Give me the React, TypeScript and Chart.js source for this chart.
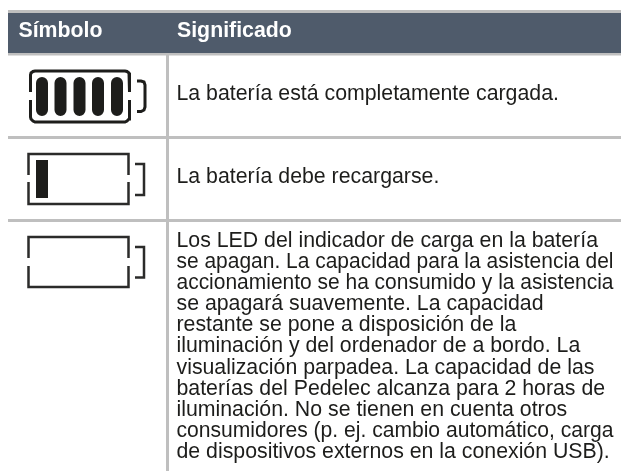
import React, { useEffect, useRef } from "react";
import { Chart, registerables } from "chart.js";

Chart.register(...registerables);

const headers = ["Símbolo", "Significado"];
const rowOneText = ["La batería está completamente cargada."];
const rowTwoText = ["La batería debe recargarse."];
const rowThreeText = [
  "Los LED del indicador de carga en la batería",
  "se apagan. La capacidad para la asistencia del",
  "accionamiento se ha consumido y la asistencia",
  "se apagará suavemente. La capacidad",
  "restante se pone a disposición de la",
  "iluminación y del ordenador de a bordo. La",
  "visualización parpadea. La capacidad de las",
  "baterías del Pedelec alcanza para 2 horas de",
  "iluminación. No se tienen en cuenta otros",
  "consumidores (p. ej. cambio automático, carga",
  "de dispositivos externos en la conexión USB).",
];
const rowThreeMaxWidth = [422, 437, 437, 368, 341, 405, 418, 430, 392, 437, 434];

type P = { x: number; y: number };
const pts = (a: number[][]): P[] => a.map(([x, y]) => ({ x, y }));

const headerBand = [[8, 33], [621, 33]];
const ruleTop = [[8, 11.5], [621, 11.5]];
const ruleHeader = [[8, 54], [621, 54]];
const ruleRowOne = [[8, 137.5], [621, 137.5]];
const ruleRowTwo = [[8, 220.5], [621, 220.5]];
const ruleColumn = [[167.5, 13], [167.5, 471]];

const fullUpper = [[30.5, 92], [30.5, 75], [31, 73], [33, 71.5], [35, 71], [125, 71], [127, 71.5], [129, 73], [129.5, 75], [129.5, 92]];
const fullLower = [[30.5, 100], [30.5, 117], [31, 119], [33, 121], [35, 122], [125, 122], [127, 121], [129, 119], [129.5, 117], [129.5, 100]];
const fullNub = [[137, 81], [141, 81], [144, 82], [145, 85], [145, 107], [144, 110], [141, 111.5], [137, 111.5]];
const fullCells = [42, 60.5, 79.5, 98, 117];
const fullCellTop = 83;
const fullCellBottom = 110;

const lowUpper = [[28.5, 175], [28.5, 154], [128.5, 154], [128.5, 175]];
const lowLower = [[28.5, 182], [28.5, 204], [128.5, 204], [128.5, 182]];
const lowNub = [[135, 164], [144, 164], [144, 195], [135, 195]];
const lowCell = [[42, 160], [42, 198]];

const emptyUpper = [[28.5, 258], [28.5, 237], [128.5, 237], [128.5, 258]];
const emptyLower = [[28.5, 266], [28.5, 287], [128.5, 287], [128.5, 266]];
const emptyNub = [[135, 247], [144, 247], [144, 277.5], [135, 277.5]];

const FONT = "'Liberation Sans', Arial, sans-serif";
const INK = "#1d1d1b";
const RULE = "#bfbfbf";
const HEAD = "#4f5b6b";

const line = (a: number[][], color: string, width: number, cap: CanvasLineCap = "butt") => ({
  type: "line" as const,
  data: pts(a),
  borderColor: color,
  borderWidth: width,
  borderCapStyle: cap,
  borderJoinStyle: "miter" as CanvasLineJoin,
  pointRadius: 0,
  tension: 0,
  fill: false,
});

const tableText = {
  id: "tableText",
  afterDatasetsDraw(chart: Chart) {
    const { ctx, scales } = chart;
    const X = scales.x;
    const Y = scales.y;
    ctx.save();
    ctx.textBaseline = "alphabetic";
    ctx.textAlign = "left";
    ctx.fillStyle = "#ffffff";
    ctx.font = `bold 21.3px ${FONT}`;
    ctx.fillText(headers[0], X.getPixelForValue(18.5), Y.getPixelForValue(37));
    ctx.fillText(headers[1], X.getPixelForValue(177), Y.getPixelForValue(37));
    ctx.fillStyle = INK;
    ctx.font = `21.3px ${FONT}`;
    ctx.fillText(rowOneText[0], X.getPixelForValue(176.5), Y.getPixelForValue(100));
    ctx.fillText(rowTwoText[0], X.getPixelForValue(176.5), Y.getPixelForValue(183));
    rowThreeText.forEach((t, i) => {
      ctx.fillText(t, X.getPixelForValue(176.5), Y.getPixelForValue(246.5 + i * 21.17), rowThreeMaxWidth[i]);
    });
    ctx.restore();
  },
};

export default function App() {
  const ref = useRef<HTMLCanvasElement>(null);
  useEffect(() => {
    document.body.style.margin = "0";
    const chart = new Chart(ref.current!, {
      type: "line",
      data: {
        datasets: [
          line(headerBand, HEAD, 40),
          line(ruleTop, RULE, 3),
          line(ruleHeader, RULE, 3),
          line(ruleRowOne, RULE, 3),
          line(ruleRowTwo, RULE, 3),
          line(ruleColumn, RULE, 3),
          line(fullUpper, INK, 3),
          line(fullLower, INK, 3),
          line(fullNub, INK, 3),
          ...fullCells.map((x) => line([[x, fullCellTop], [x, fullCellBottom]], INK, 12, "round")),
          line(lowUpper, "#2b2b2a", 2.5),
          line(lowLower, "#2b2b2a", 2.5),
          line(lowNub, "#2b2b2a", 2.5),
          line(lowCell, INK, 12),
          line(emptyUpper, "#2b2b2a", 2.5),
          line(emptyLower, "#2b2b2a", 2.5),
          line(emptyNub, "#2b2b2a", 2.5),
        ],
      },
      options: {
        animation: false,
        responsive: false,
        layout: { padding: 0 },
        plugins: { legend: { display: false }, tooltip: { enabled: false }, title: { display: false } },
        scales: {
          x: { type: "linear", min: 0, max: 621, display: false },
          y: { type: "linear", min: 0, max: 471, reverse: true, display: false },
        },
      },
      plugins: [tableText],
    });
    return () => chart.destroy();
  }, []);
  return (
    <div style={{ width: 621, height: 471 }}>
      <canvas ref={ref} width={621} height={471} style={{ display: "block" }} />
    </div>
  );
}
